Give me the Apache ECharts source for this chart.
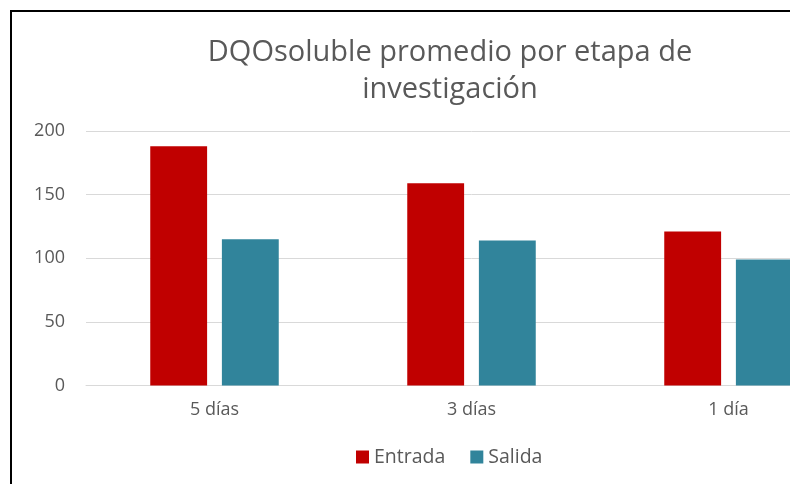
<!DOCTYPE html>
<html>
<head>
<meta charset="utf-8">
<script src="https://cdn.jsdelivr.net/npm/echarts@6/dist/echarts.min.js"></script>
<style>
  html, body { margin: 0; padding: 0; background: #fff; overflow: hidden; width: 790px; height: 484px; }
  #chart { width: 880px; height: 484px; }
</style>
</head>
<body>
<div id="chart"></div>
<script>
// Etapas de investigación y DQO soluble promedio (mg/L)
const categories = ['5 días', '3 días', '1 día'];
const entrada = [188, 159, 121];
const salida = [115, 114, 99];
const yTicks = { min: 0, max: 200, interval: 50 };

const textColor = '#595959';
const fontFamily = '"Open Sans", "Noto Sans", sans-serif';

const chart = echarts.init(document.getElementById('chart'), null, { renderer: 'canvas' });
chart.setOption({
  animation: false,
  backgroundColor: '#ffffff',
  textStyle: { fontFamily: fontFamily },
  title: {
    text: 'DQOsoluble promedio por etapa de\ninvestigación',
    left: 445,
    top: 29,
    textAlign: 'center',
    textStyle: {
      color: textColor,
      fontSize: 29,
      fontWeight: 'normal',
      fontFamily: fontFamily,
      lineHeight: 37
    }
  },
  legend: {
    data: ['Entrada', 'Salida'],
    left: 351,
    top: 442,
    itemWidth: 13,
    itemHeight: 13,
    itemGap: 25,
    icon: 'rect',
    textStyle: { color: textColor, fontSize: 19.5, fontFamily: fontFamily }
  },
  grid: {
    left: 86,
    top: 131,
    width: 771,
    height: 254.5,
    containLabel: false
  },
  xAxis: {
    type: 'category',
    data: categories,
    axisLine: { show: true, lineStyle: { color: '#D9D9D9' } },
    axisTick: { show: false },
    axisLabel: { color: textColor, fontSize: 18, margin: 15 }
  },
  yAxis: {
    type: 'value',
    min: yTicks.min,
    max: yTicks.max,
    interval: yTicks.interval,
    axisLine: { show: false },
    axisTick: { show: false },
    axisLabel: { color: textColor, fontSize: 18, margin: 21 },
    splitLine: { lineStyle: { color: '#D9D9D9', width: 1 } }
  },
  series: [
    {
      name: 'Entrada',
      type: 'bar',
      data: entrada,
      itemStyle: { color: '#C00000' },
      barGap: '26%',
      barCategoryGap: '50%'
    },
    {
      name: 'Salida',
      type: 'bar',
      data: salida,
      itemStyle: { color: '#31849B' }
    }
  ],
  graphic: [
    {
      type: 'polyline',
      shape: { points: [[11, 484], [11, 11], [880, 11]] },
      style: { stroke: '#000000', lineWidth: 2, fill: null },
      silent: true
    }
  ]
});
</script>
</body>
</html>
